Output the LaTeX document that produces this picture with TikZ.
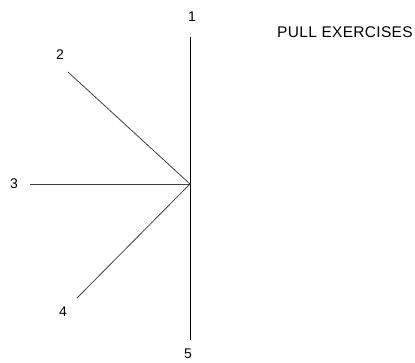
\documentclass[tikz,border=0pt]{standalone}
\usepackage{fontspec}
\setmainfont{Liberation Sans}
\begin{document}
\begin{tikzpicture}[x=1pt,y=-1pt,
  lbl/.style={font=\fontsize{14}{14}\selectfont, inner sep=0pt, anchor=center},
  spoke/.style={draw=black!75, line width=0.8pt},
  axis/.style={draw=black, line width=0.9pt}]
\useasboundingbox (0,0) rectangle (415,362);
\coordinate (c) at (190,184);
\coordinate (top) at (190,37);
\coordinate (bot) at (190,340);
\coordinate (e2) at (68,72);
\coordinate (e3) at (30,184);
\coordinate (e4) at (77,298);
\draw[axis] (top) -- (bot);
\draw[spoke] (e2) -- (c);
\draw[spoke] (e3) -- (c);
\draw[spoke] (e4) -- (c);
\node[lbl] (n1) at (192,17) {1};
\node[lbl] (n2) at (60,55) {2};
\node[lbl] (n3) at (14,184) {3};
\node[lbl] (n4) at (63,312) {4};
\node[lbl] (n5) at (188,354) {5};
\node[inner sep=0pt, anchor=west, font=\fontsize{15.5}{15.5}\selectfont\addfontfeature{LetterSpace=2}] (title) at (277,32) {PULL EXERCISES};
\end{tikzpicture}
\end{document}
